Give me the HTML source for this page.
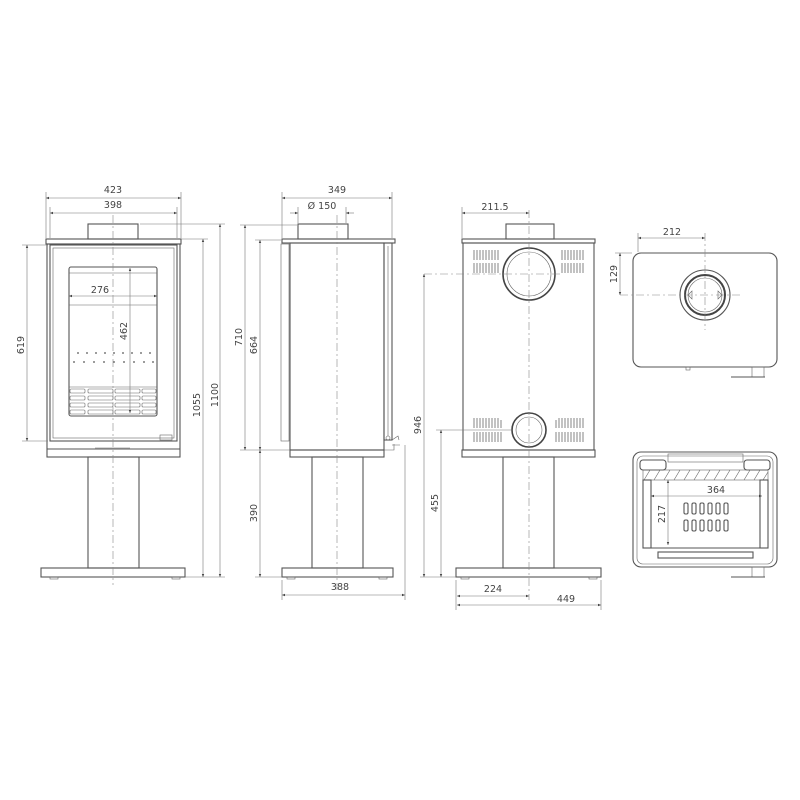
<!DOCTYPE html>
<html><head><meta charset="utf-8"><style>
html,body{margin:0;padding:0;background:#fff;width:800px;height:800px;overflow:hidden}
svg{display:block}
text{font-family:"DejaVu Sans","Liberation Sans",sans-serif;font-size:9.5px;fill:#444}
.s{fill:none;stroke:#555;stroke-width:1.1}
.t{fill:none;stroke:#666;stroke-width:0.6}
.d{fill:none;stroke:#777;stroke-width:0.6}
.c{fill:none;stroke:#888;stroke-width:0.6;stroke-dasharray:8 3 2 3}
</style></head><body>
<svg width="800" height="800" viewBox="0 0 800 800">
<defs>
<marker id="a" viewBox="0 0 10 10" refX="10" refY="5" markerWidth="7" markerHeight="5" orient="auto-start-reverse"><path d="M0,1 L10,5 L0,9 z" fill="#444"/></marker>
</defs>

<!-- ===== FRONT VIEW ===== -->
<g>
<rect class="s" x="88" y="224" width="50" height="15"/>
<rect class="s" x="46" y="239" width="135" height="5"/>
<rect class="s" x="47" y="244" width="133" height="213"/>
<rect class="s" x="50" y="245" width="127" height="196"/>
<rect class="t" x="53" y="248" width="121" height="190"/>
<rect class="s" x="69" y="267" width="88" height="149" rx="2"/>
<line class="t" x1="69" y1="273" x2="157" y2="273"/>
<line class="t" x1="69" y1="305" x2="157" y2="305"/>
<g fill="#555">
<circle cx="78" cy="353" r="0.9"/><circle cx="87" cy="353" r="0.9"/><circle cx="96" cy="353" r="0.9"/><circle cx="105" cy="353" r="0.9"/><circle cx="114" cy="353" r="0.9"/><circle cx="123" cy="353" r="0.9"/><circle cx="132" cy="353" r="0.9"/><circle cx="141" cy="353" r="0.9"/><circle cx="150" cy="353" r="0.9"/>
<circle cx="74" cy="362" r="0.9"/><circle cx="84" cy="362" r="0.9"/><circle cx="94" cy="362" r="0.9"/><circle cx="104" cy="362" r="0.9"/><circle cx="114" cy="362" r="0.9"/><circle cx="124" cy="362" r="0.9"/><circle cx="134" cy="362" r="0.9"/><circle cx="144" cy="362" r="0.9"/><circle cx="153" cy="362" r="0.9"/>
</g>
<line class="t" x1="69" y1="387" x2="157" y2="387"/>
<g class="t">
<rect x="70" y="389" width="15" height="4" rx="1"/><rect x="88" y="389" width="25" height="4" rx="1"/><rect x="115" y="389" width="25" height="4" rx="1"/><rect x="142" y="389" width="14" height="4" rx="1"/>
<rect x="70" y="396" width="15" height="4" rx="1"/><rect x="88" y="396" width="25" height="4" rx="1"/><rect x="115" y="396" width="25" height="4" rx="1"/><rect x="142" y="396" width="14" height="4" rx="1"/>
<rect x="70" y="403" width="15" height="4" rx="1"/><rect x="88" y="403" width="25" height="4" rx="1"/><rect x="115" y="403" width="25" height="4" rx="1"/><rect x="142" y="403" width="14" height="4" rx="1"/>
<rect x="70" y="410" width="15" height="4" rx="1"/><rect x="88" y="410" width="25" height="4" rx="1"/><rect x="115" y="410" width="25" height="4" rx="1"/><rect x="142" y="410" width="14" height="4" rx="1"/>
</g>
<line class="s" x1="47" y1="449" x2="180" y2="449"/>
<line class="t" x1="95" y1="448" x2="130" y2="448"/>
<rect class="t" x="160" y="435" width="12" height="5"/>
<rect class="s" x="88" y="457" width="51" height="111"/>
<rect class="s" x="41" y="568" width="144" height="9"/>
<rect class="t" x="50" y="577" width="8" height="2"/><rect class="t" x="172" y="577" width="8" height="2"/>
<line class="c" x1="113" y1="215" x2="113" y2="585"/>
<!-- dims -->
<line class="d" x1="46" y1="192" x2="46" y2="238"/><line class="d" x1="181" y1="192" x2="181" y2="238"/>
<line class="d" x1="46" y1="198" x2="181" y2="198" marker-start="url(#a)" marker-end="url(#a)"/>
<text x="113" y="193" text-anchor="middle">423</text>
<line class="d" x1="50" y1="207" x2="50" y2="238"/><line class="d" x1="177" y1="207" x2="177" y2="238"/>
<line class="d" x1="50" y1="213" x2="177" y2="213" marker-start="url(#a)" marker-end="url(#a)"/>
<text x="113" y="208" text-anchor="middle">398</text>
<line class="d" x1="22" y1="245" x2="48" y2="245"/><line class="d" x1="22" y1="441" x2="48" y2="441"/>
<line class="d" x1="27" y1="245" x2="27" y2="441" marker-start="url(#a)" marker-end="url(#a)"/>
<text transform="translate(24,345) rotate(-90)" text-anchor="middle">619</text>
<line class="d" x1="181" y1="239" x2="208" y2="239"/><line class="d" x1="185" y1="577" x2="225" y2="577"/>
<line class="d" x1="203" y1="239" x2="203" y2="577" marker-start="url(#a)" marker-end="url(#a)"/>
<text transform="translate(200,405) rotate(-90)" text-anchor="middle">1055</text>
<line class="d" x1="140" y1="224" x2="225" y2="224"/>
<line class="d" x1="220" y1="224" x2="220" y2="577" marker-start="url(#a)" marker-end="url(#a)"/>
<text transform="translate(218,395) rotate(-90)" text-anchor="middle">1100</text>
<line class="d" x1="69" y1="296" x2="157" y2="296" marker-start="url(#a)" marker-end="url(#a)"/>
<text x="100" y="293" text-anchor="middle">276</text>
<line class="d" x1="130" y1="268" x2="130" y2="413" marker-start="url(#a)" marker-end="url(#a)"/>
<text transform="translate(127,331) rotate(-90)" text-anchor="middle">462</text>
</g>

<!-- ===== SIDE VIEW ===== -->
<g>
<rect class="s" x="298" y="224" width="50" height="15"/>
<rect class="s" x="282" y="239" width="113" height="4"/>
<rect class="s" x="290" y="243" width="94" height="207"/>
<rect class="t" x="281" y="244" width="8" height="197"/>
<rect class="s" x="384" y="243" width="8" height="197"/>
<line class="t" x1="388" y1="246" x2="388" y2="436"/>
<circle class="t" cx="388" cy="438" r="2"/>
<path class="t" d="M392,440 l6,-4 l1,4 M392,445 h8 M384,450 h10 v-6"/>
<rect class="s" x="290" y="450" width="94" height="7"/>
<rect class="s" x="312" y="457" width="51" height="111"/>
<rect class="s" x="282" y="568" width="111" height="9"/>
<rect class="t" x="287" y="577" width="8" height="2"/><rect class="t" x="379" y="577" width="8" height="2"/>
<line class="c" x1="337" y1="215" x2="337" y2="590"/>
<line class="d" x1="282" y1="192" x2="282" y2="238"/><line class="d" x1="392" y1="192" x2="392" y2="238"/>
<line class="d" x1="282" y1="198" x2="392" y2="198" marker-start="url(#a)" marker-end="url(#a)"/>
<text x="337" y="193" text-anchor="middle">349</text>
<line class="d" x1="298" y1="207" x2="298" y2="223"/><line class="d" x1="346" y1="207" x2="346" y2="223"/>
<line class="d" x1="290" y1="213" x2="298" y2="213" marker-end="url(#a)"/>
<line class="d" x1="346" y1="213" x2="354" y2="213" marker-start="url(#a)"/>
<text x="322" y="209" text-anchor="middle">Ø 150</text>
<line class="d" x1="240" y1="225" x2="297" y2="225"/>
<line class="d" x1="240" y1="450" x2="290" y2="450"/>
<line class="d" x1="245" y1="225" x2="245" y2="450" marker-start="url(#a)" marker-end="url(#a)"/>
<text transform="translate(242,337) rotate(-90)" text-anchor="middle">710</text>
<line class="d" x1="255" y1="240" x2="281" y2="240"/>
<line class="d" x1="260" y1="240" x2="260" y2="450" marker-start="url(#a)" marker-end="url(#a)"/>
<text transform="translate(257,345) rotate(-90)" text-anchor="middle">664</text>
<line class="d" x1="255" y1="577" x2="282" y2="577"/>
<line class="d" x1="260" y1="450" x2="260" y2="577" marker-start="url(#a)" marker-end="url(#a)"/>
<text transform="translate(257,513) rotate(-90)" text-anchor="middle">390</text>
<line class="d" x1="282" y1="580" x2="282" y2="600"/><line class="d" x1="405" y1="445" x2="405" y2="600"/>
<line class="d" x1="282" y1="595" x2="405" y2="595" marker-start="url(#a)" marker-end="url(#a)"/>
<text x="340" y="590" text-anchor="middle">388</text>
</g>

<!-- ===== BACK VIEW ===== -->
<g>
<rect class="s" x="506" y="224" width="48" height="15"/>
<rect class="s" x="462" y="239" width="133" height="4"/>
<rect class="s" x="463" y="243" width="131" height="207"/>
<rect class="s" x="462" y="450" width="133" height="7"/>
<g stroke="#666" stroke-width="0.8">
<path d="M474,250v10M477,250v10M480,250v10M483,250v10M486,250v10M489,250v10M492,250v10M495,250v10M498,250v10M474,263v10M477,263v10M480,263v10M483,263v10M486,263v10M489,263v10M492,263v10M495,263v10M498,263v10"/>
<path d="M562,250v10M565,250v10M568,250v10M571,250v10M574,250v10M577,250v10M580,250v10M583,250v10M562,263v10M565,263v10M568,263v10M571,263v10M574,263v10M577,263v10M580,263v10M583,263v10"/>
<path d="M474,418v10M477,418v10M480,418v10M483,418v10M486,418v10M489,418v10M492,418v10M495,418v10M498,418v10M501,420v8M474,432v10M477,432v10M480,432v10M483,432v10M486,432v10M489,432v10M492,432v10M495,432v10M498,432v10M501,432v10"/>
<path d="M556,420v8M559,418v10M562,418v10M565,418v10M568,418v10M571,418v10M574,418v10M577,418v10M580,418v10M583,418v10M556,432v10M559,432v10M562,432v10M565,432v10M568,432v10M571,432v10M574,432v10M577,432v10M580,432v10M583,432v10"/>
</g>
<circle cx="529" cy="274" r="26" fill="none" stroke="#444" stroke-width="1.6"/>
<circle class="t" cx="529" cy="274" r="22"/>
<circle cx="529" cy="430" r="17" fill="none" stroke="#444" stroke-width="1.6"/>
<circle class="t" cx="529" cy="430" r="13"/>
<rect class="s" x="503" y="457" width="51" height="111"/>
<rect class="s" x="456" y="568" width="145" height="9"/>
<rect class="t" x="461" y="577" width="8" height="2"/><rect class="t" x="589" y="577" width="8" height="2"/>
<line class="c" x1="529" y1="210" x2="529" y2="600"/>
<line class="c" x1="424" y1="274" x2="560" y2="274"/>
<line class="d" x1="462" y1="207" x2="462" y2="238"/>
<line class="d" x1="462" y1="213" x2="529" y2="213" marker-start="url(#a)" marker-end="url(#a)"/>
<text x="495" y="210" text-anchor="middle">211.5</text>
<line class="d" x1="424" y1="274" x2="424" y2="577" marker-start="url(#a)" marker-end="url(#a)"/>
<text transform="translate(421,425) rotate(-90)" text-anchor="middle">946</text>
<line class="d" x1="436" y1="430" x2="512" y2="430"/>
<line class="d" x1="420" y1="577" x2="456" y2="577"/>
<line class="d" x1="441" y1="430" x2="441" y2="577" marker-start="url(#a)" marker-end="url(#a)"/>
<text transform="translate(438,503) rotate(-90)" text-anchor="middle">455</text>
<line class="d" x1="456" y1="580" x2="456" y2="610"/><line class="d" x1="601" y1="580" x2="601" y2="610"/>
<line class="d" x1="457" y1="596" x2="529" y2="596" marker-start="url(#a)" marker-end="url(#a)"/>
<text x="493" y="592" text-anchor="middle">224</text>
<line class="d" x1="457" y1="605" x2="601" y2="605" marker-start="url(#a)" marker-end="url(#a)"/>
<text x="566" y="602" text-anchor="middle">449</text>
</g>

<!-- ===== TOP VIEW ===== -->
<g>
<rect class="s" x="633" y="253" width="144" height="114" rx="8"/>
<circle class="s" cx="705" cy="295" r="25"/>
<circle cx="705" cy="295" r="20" fill="none" stroke="#444" stroke-width="2"/>
<circle class="t" cx="705" cy="295" r="17"/>
<path class="t" d="M688,295 l4,-4 v8 z M722,295 l-4,-4 v8 z"/>
<line class="c" x1="620" y1="295" x2="740" y2="295"/>
<line class="c" x1="705" y1="233" x2="705" y2="330"/>
<rect class="t" x="686" y="367" width="4" height="3"/>
<rect class="t" x="752" y="367" width="12" height="10"/>
<line class="s" x1="731" y1="377" x2="765" y2="377"/>
<line class="d" x1="638" y1="233" x2="638" y2="252"/>
<line class="d" x1="638" y1="238" x2="705" y2="238" marker-start="url(#a)" marker-end="url(#a)"/>
<text x="672" y="235" text-anchor="middle">212</text>
<line class="d" x1="615" y1="253" x2="632" y2="253"/>
<line class="d" x1="620" y1="253" x2="620" y2="295" marker-start="url(#a)" marker-end="url(#a)"/>
<text transform="translate(617,274) rotate(-90)" text-anchor="middle">129</text>
</g>

<!-- ===== SECTION VIEW ===== -->
<g>
<rect class="s" x="633" y="452" width="144" height="115" rx="8"/>
<rect class="t" x="637" y="456" width="136" height="108" rx="6"/>
<rect class="t" x="668" y="454" width="75" height="8"/>
<rect class="s" x="640" y="460" width="26" height="10" rx="3"/>
<rect class="s" x="744" y="460" width="26" height="10" rx="3"/>
<rect class="t" x="643" y="470" width="125" height="10"/>
<g class="t"><path d="M650,470l-6,10M660,470l-6,10M670,470l-6,10M680,470l-6,10M690,470l-6,10M700,470l-6,10M710,470l-6,10M720,470l-6,10M730,470l-6,10M740,470l-6,10M750,470l-6,10M760,470l-6,10M768,472l-5,8"/></g>
<rect class="s" x="643" y="480" width="8" height="68"/>
<rect class="s" x="760" y="480" width="8" height="68"/>
<line class="s" x1="651" y1="548" x2="760" y2="548"/>
<rect class="s" x="658" y="552" width="95" height="6" fill="#ddd"/>
<g class="s">
<rect x="684" y="503" width="4" height="11" rx="1.5"/><rect x="692" y="503" width="4" height="11" rx="1.5"/><rect x="700" y="503" width="4" height="11" rx="1.5"/><rect x="708" y="503" width="4" height="11" rx="1.5"/><rect x="716" y="503" width="4" height="11" rx="1.5"/><rect x="724" y="503" width="4" height="11" rx="1.5"/>
<rect x="684" y="520" width="4" height="11" rx="1.5"/><rect x="692" y="520" width="4" height="11" rx="1.5"/><rect x="700" y="520" width="4" height="11" rx="1.5"/><rect x="708" y="520" width="4" height="11" rx="1.5"/><rect x="716" y="520" width="4" height="11" rx="1.5"/><rect x="724" y="520" width="4" height="11" rx="1.5"/>
</g>
<rect class="t" x="752" y="567" width="12" height="10"/>
<line class="s" x1="731" y1="577" x2="765" y2="577"/>
<line class="d" x1="651" y1="496" x2="762" y2="496" marker-start="url(#a)" marker-end="url(#a)"/>
<text x="716" y="493" text-anchor="middle">364</text>
<line class="d" x1="668" y1="480" x2="668" y2="545" marker-start="url(#a)" marker-end="url(#a)"/>
<text transform="translate(665,514) rotate(-90)" text-anchor="middle">217</text>
</g>
</svg>
</body></html>
